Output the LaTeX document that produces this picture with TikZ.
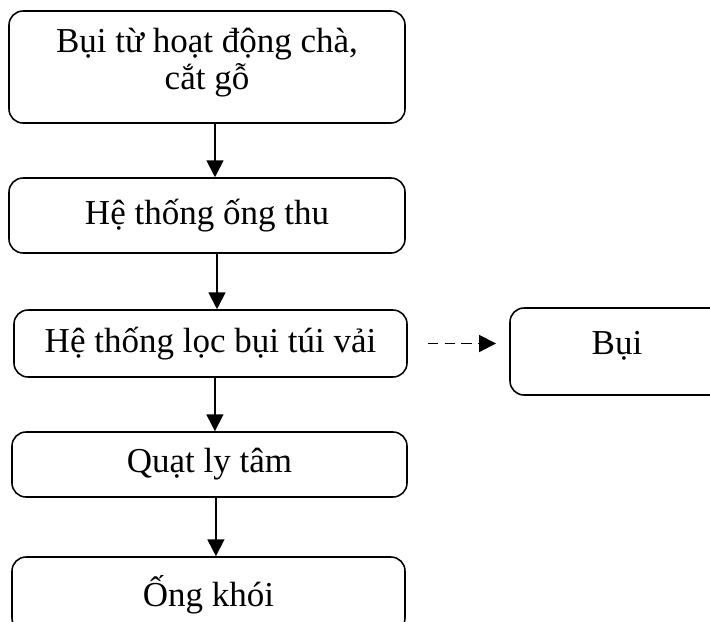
\documentclass[tikz,border=0pt]{standalone}
\usepackage{fontspec}
\setmainfont{Liberation Serif}
\usetikzlibrary{arrows.meta,positioning}
\tikzset{
  stepbox/.style={rectangle, rounded corners=0.35cm, draw=black, line width=1.1pt,
                  align=center, inner sep=0pt, font=\fontsize{24.9}{26}\selectfont},
  arrow/.style={-{Triangle[length=0.42cm, width=0.42cm]}, line width=1.3pt},
  dasharrow/.style={arrow, dash pattern=on 7.6pt off 4.3pt},
}

\begin{document}
\begin{tikzpicture}
\useasboundingbox (0,0) rectangle (17.75,-15.525);

% Main line
\node[stepbox, minimum width=9.9cm, minimum height=2.8cm] (source) at (5.175,-1.675) {Bụi từ hoạt động chà,\\cắt gỗ\rule[-0.4cm]{0pt}{0pt}};
\node[stepbox, minimum width=9.9cm, minimum height=1.875cm] (duct) at (5.175,-5.3875) {Hệ thống ống thu};
\node[stepbox, minimum width=9.825cm, minimum height=1.675cm] (filter) at (5.2625,-8.5875) {Hệ thống lọc bụi túi vải};
\node[stepbox, minimum width=9.875cm, minimum height=1.625cm] (fan) at (5.2375,-11.6125) {Quạt ly tâm};
\node[stepbox, minimum width=9.825cm, minimum height=1.875cm] (stack) at (5.2125,-14.8625) {Ống khói};

% Side output
\node[stepbox, minimum width=5.35cm, minimum height=2.175cm] (dust) at (15.425,-8.7875) {\raisebox{0.13cm}[\height][\depth]{Bụi}};

% Arrows
\draw[arrow] ([xshift=0.2cm]source.south) -- ([xshift=0.2cm]source.south |- duct.north);
\draw[arrow] ([xshift=0.25cm]duct.south) -- ([xshift=0.25cm]duct.south |- filter.north);
\draw[arrow] ([xshift=0.11cm]filter.south) -- ([xshift=0.11cm]filter.south |- fan.north);
\draw[arrow] ([xshift=0.16cm]fan.south) -- ([xshift=0.16cm]fan.south |- stack.north);
\draw[dasharrow, shorten <=0.5cm, shorten >=0.33cm] (filter.east) -- (filter.east -| dust.west);

\end{tikzpicture}
\end{document}
